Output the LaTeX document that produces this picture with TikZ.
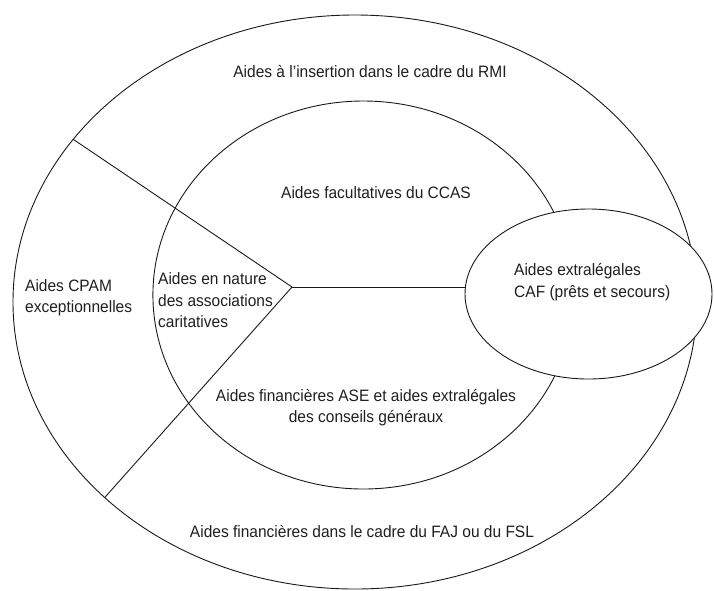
\documentclass[tikz,border=0pt]{standalone}
\usepackage{fontspec}
\setmainfont{Liberation Sans}[FakeStretch=0.94]
\usetikzlibrary{shapes.geometric}
\begin{document}
\begin{tikzpicture}[x=1pt,y=-1pt,
  ring/.style={ellipse,draw=black!90,line width=0.9pt,inner sep=0pt,outer sep=0pt},
  zone/.style={font=\fontsize{16.5}{21.5}\selectfont,text=black!88,inner sep=0pt}]
\useasboundingbox (0,0) rectangle (714,590);
\node[ring,minimum width=684pt,minimum height=574pt] (outer) at (355,302) {};
\node[ring,minimum width=421pt,minimum height=388pt] (inner) at (363.4,295) {};
\coordinate (hub) at (292,287);
\draw[line width=0.9pt,black!90] (outer.150) -- (hub) -- (outer.218);
\node[ring,fill=white,minimum width=247pt,minimum height=170pt] (caf) at (588.5,294) {};
\draw[line width=0.9pt,black!90] (hub) -- (hub -| caf.west);
\node[zone] (rmi) at (370,72) {Aides à l'insertion dans le cadre du RMI};
\node[zone] (ccas) at (376,193) {Aides facultatives du CCAS};
\node[zone,align=left,anchor=west] (cafText) at (514,282) {Aides extralégales\\CAF (prêts et secours)};
\node[zone,align=left,anchor=west] (cpam) at (25,297.5) {Aides CPAM\\exceptionnelles};
\node[zone,align=left,anchor=west] (nature) at (158,300.5) {Aides en nature\\des associations\\caritatives};
\node[zone,align=center] (ase) at (366,407.5) {Aides financières ASE et aides extralégales\\des conseils généraux};
\node[zone] (faj) at (362,531) {Aides financières dans le cadre du FAJ ou du FSL};
\end{tikzpicture}
\end{document}
